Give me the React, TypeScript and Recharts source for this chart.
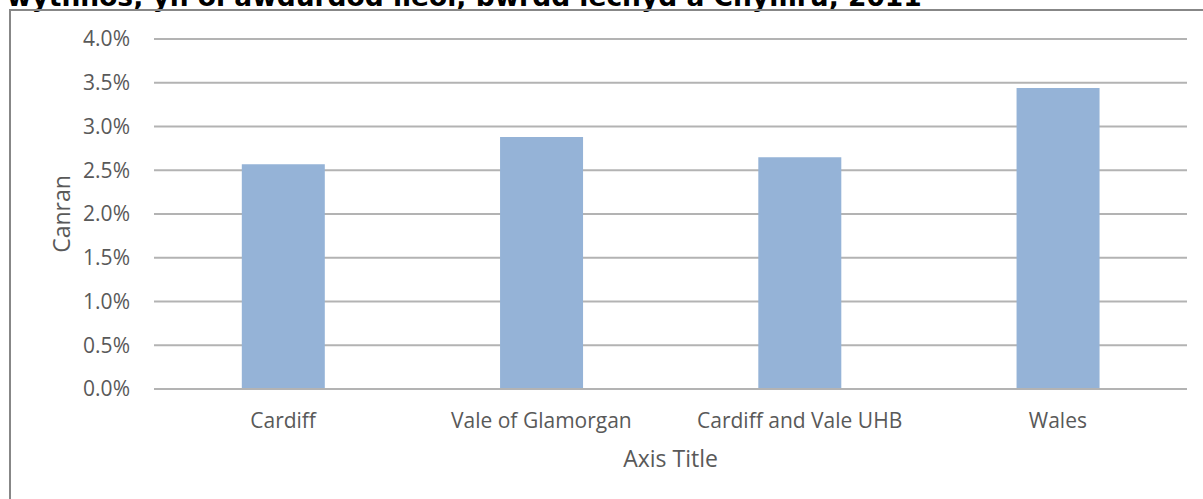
import React from 'react';
import { Bar, BarChart, CartesianGrid, XAxis, YAxis } from 'recharts';

const areas = ['Cardiff', 'Vale of Glamorgan', 'Cardiff and Vale UHB', 'Wales'];
const shares = [0.0257, 0.0288, 0.0265, 0.0344];
const yTicks = [0, 0.005, 0.01, 0.015, 0.02, 0.025, 0.03, 0.035, 0.04];

const chartTitle = 'wythnos, yn ôl awdurdod lleol, bwrdd iechyd a Chymru, 2011';
const yTitle = 'Canran';
const xTitle = 'Axis Title';

const data = areas.map((name, i) => ({ name, value: shares[i] }));

const font = '"Open Sans", sans-serif';
const textGrey = '#595959';

const YTitle = (props: any) => {
    const { y, height } = props.viewBox;
    const cx = 61;
    const cy = y + height / 2;
    return (
        <text
            x={cx}
            y={cy}
            transform={`rotate(-90 ${cx} ${cy})`}
            textAnchor="middle"
            dominantBaseline="central"
            fill={textGrey}
            fontSize={23}
            fontFamily={font}
        >
            {yTitle}
        </text>
    );
};

const XTitle = (props: any) => {
    const { x, width } = props.viewBox;
    return (
        <text
            x={x + width / 2}
            y={467}
            textAnchor="middle"
            fill={textGrey}
            fontSize={23}
            fontFamily={font}
        >
            {xTitle}
        </text>
    );
};

export default function App() {
    return (
        <div
            style={{
                position: 'fixed',
                left: 0,
                top: 0,
                width: 1203,
                height: 499,
                overflow: 'hidden',
                background: '#fff',
            }}
        >
            <div
                style={{
                    position: 'absolute',
                    left: 7,
                    top: -17,
                    lineHeight: '27px',
                    fontSize: 26.5,
                    fontWeight: 'bold',
                    fontFamily: '"DejaVu Sans", sans-serif',
                    whiteSpace: 'nowrap',
                    color: '#000',
                }}
            >
                {chartTitle}
            </div>
            <div style={{ position: 'absolute', left: 0, top: 0 }}>
                <BarChart
                    width={1203}
                    height={499}
                    data={data}
                    margin={{ top: 39, right: 16, bottom: 30, left: 0 }}
                    barCategoryGap="34%"
                >
                    <CartesianGrid vertical={false} stroke="#b3b3b3" strokeWidth={2} />
                    <XAxis
                        dataKey="name"
                        height={80}
                        tickSize={0}
                        tickMargin={24}
                        axisLine={{ stroke: '#b3b3b3', strokeWidth: 2 }}
                        tick={{ fill: textGrey, fontSize: 21, fontFamily: font }}
                        label={<XTitle />}
                    />
                    <YAxis
                        width={154}
                        domain={[0, 0.04]}
                        ticks={yTicks}
                        interval={0}
                        tickSize={0}
                        tickMargin={24}
                        axisLine={false}
                        tickFormatter={(v: number) => (v * 100).toFixed(1) + '%'}
                        tick={{ fill: textGrey, fontSize: 21, fontFamily: font }}
                        label={<YTitle />}
                    />
                    <Bar dataKey="value" fill="#95b3d7" isAnimationActive={false} />
                </BarChart>
            </div>
            {/* frame: only top and left edges are in view */}
            <div
                style={{
                    position: 'absolute',
                    left: 9,
                    top: 9,
                    width: 1300,
                    height: 600,
                    borderTop: '2px solid #878787',
                    borderLeft: '2px solid #878787',
                    pointerEvents: 'none',
                }}
            />
        </div>
    );
}
